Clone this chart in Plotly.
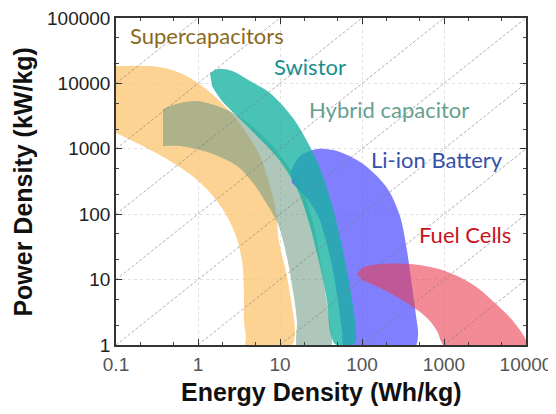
import math
import plotly.graph_objects as go

# ---- data (Energy density Wh/kg, Power density kW/kg) ----
supercap_E = [0.1, 0.26, 0.525, 0.918, 1.85, 3.54, 5.70, 7.55, 8.9, 9.7, 11.8, 14.0, 15.2, 13.2, 3.74,
              3.85, 3.64, 3.64, 3.44, 2.90, 2.19, 1.52, 0.918, 0.456, 0.213, 0.1]
supercap_P = [18400, 18400, 15500, 10900, 5380, 2080, 777, 270, 112, 39, 13.5, 3.95, 1.47, 0.9, 0.9,
              1.24, 2.33, 6.7, 19.2, 46.4, 100, 190, 357, 650, 1100, 1745]

hybrid_E = [0.374, 0.603, 0.972, 1.85, 3.25, 7.14, 12.5, 19.1, 26.7, 32.5, 38.5, 43.1, 40.7, 16.6,
            16.1, 14.4, 12.2, 9.46, 6.56, 4.69, 2.99, 1.40, 0.603, 0.374]
hybrid_P = [4060, 5010, 5380, 4350, 3060, 1320, 546, 226, 55.3, 13.5, 3.31, 1.15, 0.9, 0.9,
            2.33, 6.7, 21.4, 70.8, 159, 300, 546, 863, 1100, 1100]

swistor_E = [1.40, 1.75, 2.60, 4.31, 7.55, 14.4, 21.3, 28.3, 37.4, 46.9, 57.0, 67.5, 77.6, 84.5, 82.2,
             62.1, 46.9, 40.7, 37.4, 30.7, 23.2, 16.6, 10.0, 5.70, 3.25, 1.96, 1.48]
swistor_P = [14400, 16600, 15500, 10900, 7130, 2960, 1320, 650, 252, 93.8, 32.7, 11.4, 3.95, 1.64, 1.07,
             0.95, 1.04, 1.64, 4.71, 16.1, 66.0, 226, 650, 1410, 2860, 5380, 9120]

liion_E = [13.6, 17.5, 28.3, 49.5, 103, 202, 290, 354, 407, 456, 482, 431, 62.1,
           57.0, 50.9, 44.3, 36.4, 29.1, 20.2, 14.0]
liion_P = [458, 777, 993, 925, 586, 252, 93.8, 27.4, 7.98, 2.77, 1.37, 0.9, 0.9,
           1.64, 4.71, 13.5, 39, 93.8, 190, 300]

fuel_E = [86.9, 100, 166, 385, 776, 1360, 2390, 4190, 6940, 9720, 10500, 1030, 822, 621, 354, 166, 100]
fuel_P = [12.2, 15.0, 17.3, 17.3, 15.0, 11.8, 7.98, 4.39, 2.33, 1.28, 0.95, 0.95, 1.64, 2.59, 4.39, 7.44, 9.86]

# constant P/E ratios for the dashed reference lines
ratios = [1e-4, 1e-3, 1e-2, 1e-1, 1, 10, 100, 1e3, 1e4, 1e5, 1e6]
line_E = [0.1, 10000]

x_ticks = [0.1, 1, 10, 100, 1000, 10000]
x_tick_text = ["0.1", "1", "10", "100", "1000", "10000"]
y_ticks = [1, 10, 100, 1000, 10000, 100000]
y_tick_text = ["1", "10", "100", "1000", "10000", "100000"]

label_text = ["Supercapacitors", "Swistor", "Hybrid capacitor", "Li-ion Battery", "Fuel Cells"]
label_color = ["#8c6a1c", "#178f8c", "#66a08e", "#3550a8", "#c8141e"]
label_E = [0.142, 7.9, 21.2, 121, 465]
label_P = [53100, 18400, 4060, 698, 49.8]

fig = go.Figure()

shapes = [
    (supercap_E, supercap_P, "rgba(252,196,112,0.75)"),
    (hybrid_E, hybrid_P, "rgba(110,152,132,0.55)"),
    (liion_E, liion_P, "rgba(85,85,255,0.75)"),
    (swistor_E, swistor_P, "rgba(22,178,162,0.78)"),
    (fuel_E, fuel_P, "rgba(235,62,82,0.6)"),
]
for ex, py, col in shapes:
    fig.add_trace(go.Scatter(x=ex, y=py, mode="lines", fill="toself", fillcolor=col,
                             line=dict(width=0, shape="spline", smoothing=0.9, color=col),
                             hoverinfo="skip", showlegend=False))

for k in ratios:
    fig.add_trace(go.Scatter(x=line_E, y=[k * e for e in line_E], mode="lines",
                             line=dict(color="rgba(120,120,120,0.75)", width=0.8, dash="3px,2px"),
                             hoverinfo="skip", showlegend=False))

for txt, col, ex, py in zip(label_text, label_color, label_E, label_P):
    fig.add_annotation(x=math.log10(ex), y=math.log10(py), text=txt,
                       showarrow=False, xanchor="left", yanchor="middle",
                       font=dict(family="Lato", size=22, color=col))

axis_common = dict(type="log", showline=True, linecolor="#333", linewidth=1.5, mirror="ticks",
                   ticks="inside", ticklen=6, tickwidth=1.3, tickcolor="#333",
                   showgrid=True, gridcolor="#e0e0e0", griddash="dot", gridwidth=1,
                   zeroline=False, automargin=False, ticklabeloverflow="allow",
                   minor=dict(ticks="inside", ticklen=3, tickcolor="#444", showgrid=False))

fig.update_xaxes(range=[-1, 4], tickvals=x_ticks, ticktext=x_tick_text, ticklabelstandoff=1,
                 tickfont=dict(family="Liberation Sans, Arial", size=19, color="#555"), **axis_common)
fig.update_yaxes(range=[0, 5], tickvals=y_ticks, ticktext=y_tick_text,
                 tickfont=dict(family="Liberation Sans, Arial", size=19, color="#222"), **axis_common)

fig.add_annotation(text="<b>Energy Density (Wh/kg)</b>", xref="paper", yref="paper", x=0.5, y=-0.145,
                   showarrow=False, xanchor="center", yanchor="middle",
                   font=dict(family="Liberation Sans, Arial", size=25, color="#111"))
fig.add_annotation(text="<b>Power Density (kW/kg)</b>", xref="paper", yref="paper", x=-0.229, y=0.5,
                   showarrow=False, xanchor="center", yanchor="middle", textangle=-90,
                   font=dict(family="Liberation Sans, Arial", size=25, color="#111"))

fig.update_layout(width=548, height=406, margin=dict(l=108, r=30, t=10, b=69),
                  plot_bgcolor="white", paper_bgcolor="white")

fig.write_html("out.html")
